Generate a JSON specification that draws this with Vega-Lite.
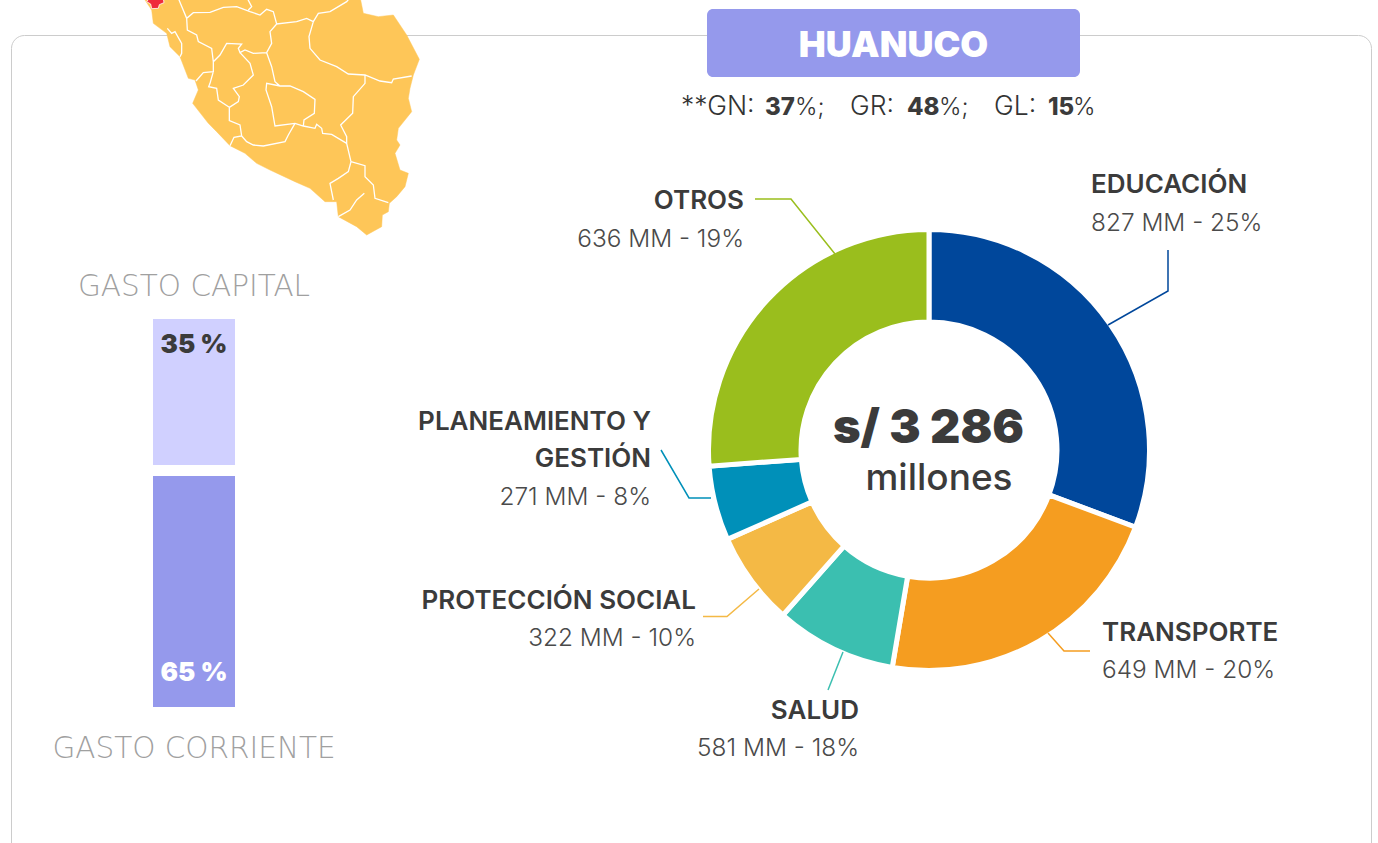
{
"$schema":"https://vega.github.io/schema/vega-lite/v6.json",
"width":1378,"height":843,"padding":0,"autosize":{"type":"none"},"background":"white",
"config":{"view":{"stroke":null}},
"datasets":{
"sectores":[
{"orden":1,"sector":"EDUCACIÓN","monto":"827 MM - 25%","arco":110.5},
{"orden":2,"sector":"TRANSPORTE","monto":"649 MM - 20%","arco":79.1},
{"orden":3,"sector":"SALUD","monto":"581 MM - 18%","arco":31.9},
{"orden":4,"sector":"PROTECCIÓN SOCIAL","monto":"322 MM - 10%","arco":24.6},
{"orden":5,"sector":"PLANEAMIENTO Y\nGESTIÓN","monto":"271 MM - 8%","arco":19.7},
{"orden":6,"sector":"OTROS","monto":"636 MM - 19%","arco":94.2}],
"guias":[
{"sector":"EDUCACIÓN","punto":1},{"sector":"EDUCACIÓN","punto":2},{"sector":"EDUCACIÓN","punto":3},
{"sector":"TRANSPORTE","punto":4},{"sector":"TRANSPORTE","punto":5},{"sector":"TRANSPORTE","punto":6},
{"sector":"SALUD","punto":7},{"sector":"SALUD","punto":8},
{"sector":"PROTECCIÓN SOCIAL","punto":9},{"sector":"PROTECCIÓN SOCIAL","punto":10},{"sector":"PROTECCIÓN SOCIAL","punto":11},
{"sector":"PLANEAMIENTO Y\nGESTIÓN","punto":12},{"sector":"PLANEAMIENTO Y\nGESTIÓN","punto":13},{"sector":"PLANEAMIENTO Y\nGESTIÓN","punto":14},
{"sector":"OTROS","punto":15},{"sector":"OTROS","punto":16},{"sector":"OTROS","punto":17}],
"gasto":[
{"grupo":"Gasto","tipo":"GASTO CAPITAL","pct":35,"etiqueta":"35 %","desde":66,"hasta":100},
{"grupo":"Gasto","tipo":"GASTO CORRIENTE","pct":65,"etiqueta":"65 %","desde":0,"hasta":65}],
"encabezado":[
{"i":1,"t":"**GN:"},{"i":2,"t":"37"},{"i":3,"t":"%;"},{"i":4,"t":"GR:"},{"i":5,"t":"48"},{"i":6,"t":"%;"},{"i":7,"t":"GL:"},{"i":8,"t":"15"},{"i":9,"t":"%"}],
"region":[{"region":"HUANUCO"}],
"marco":[{"m":"marco"}],
"centro":[{"fila":1,"t":"s/ 3 286"},{"fila":2,"t":"millones"}]
},
"resolve":{"scale":{"x":"independent","y":"independent","color":"independent","theta":"independent"}},
"layer":[
{"data":{"name":"marco"},"mark":{"type":"rect","fill":"white","stroke":"#cccccc","strokeWidth":1,"cornerRadius":13},
"encoding":{"x":{"field":"m","type":"nominal","axis":null,"scale":{"domain":["marco"],"range":[11.5,1371.5],"padding":0}},
"y":{"field":"m","type":"nominal","axis":null,"scale":{"domain":["marco"],"range":[35.5,900],"padding":0}}}},
{"data":{"values":[{"type":"Feature","properties":{"n":"mapa"},"geometry":{"type":"Polygon","coordinates":[[[690,-10],[700,40],[745,50],[790,45],[830,105],[868,178],[850,225],[840,265],[835,295],[845,335],[805,385],[800,420],[810,435],[795,460],[810,510],[835,520],[825,560],[800,590],[778,610],[775,635],[757,645],[755,680],[710,705],[680,680],[625,650],[620,605],[585,605],[540,565],[495,545],[420,510],[380,490],[345,460],[300,437],[260,395],[235,370],[188,310],[205,270],[195,240],[175,235],[150,170],[120,140],[110,100],[70,70],[65,30],[45,0],[45,-10],[690,-10]]]}}]},
"mark":{"type":"geoshape","fill":"#fec658","stroke":"#fec658","strokeWidth":0.5},
"projection":{"type":"identity","scale":0.33333,"translate":[130,0]}},
{"data":{"values":[{"type":"Feature","properties":{"n":"limites"},"geometry":{"type":"MultiLineString","coordinates":[
[[145,-5],[170,55],[190,38],[240,37],[280,22],[320,20],[360,35],[390,45],[410,28],[430,35],[440,72],[500,65],[530,55],[550,65],[565,40],[600,35],[650,5],[658,-5]],
[[352,-5],[365,20],[355,30]],
[[170,55],[172,90],[200,105],[205,125],[245,145],[250,185],[250,215],[220,218],[198,243]],
[[440,72],[420,95],[425,130],[410,158],[370,160],[345,150],[330,158],[325,145],[335,132],[290,130],[270,165],[250,185]],
[[250,215],[240,250],[236,260],[260,265],[265,300],[298,322],[298,362],[330,375],[335,408],[312,412],[300,437]],
[[330,158],[360,190],[370,225],[340,255],[310,265],[328,290],[325,305],[298,322]],
[[410,158],[425,200],[435,245],[450,258],[480,258],[520,275],[555,298],[553,340],[522,360],[520,378]],
[[450,258],[410,250],[408,270],[425,320],[435,378],[495,370],[520,378],[555,385],[560,373],[575,385],[578,400],[605,403],[650,430]],
[[495,370],[475,405],[465,425],[400,438],[370,435],[350,425],[335,408]],
[[550,65],[537,110],[540,145],[570,180],[620,200],[655,222],[705,225],[750,243],[785,248],[790,237],[845,228]],
[[705,225],[705,250],[670,290],[668,340],[632,375],[650,410],[650,430],[663,485],[655,515],[625,535],[600,550],[610,600]],
[[663,485],[705,497],[705,530],[730,555],[735,595],[775,608]],
[[625,650],[660,630],[680,600],[703,580]],
[[112,85],[125,100],[135,95],[155,130],[155,160],[150,170]]
]}}]},
"mark":{"type":"geoshape","filled":false,"stroke":"white","strokeWidth":1.3},
"projection":{"type":"identity","scale":0.33333,"translate":[130,0]}},
{"data":{"values":[{"type":"Feature","properties":{"n":"sede"},"geometry":{"type":"Polygon","coordinates":[[[58,-5],[100,-5],[102,8],[88,14],[85,25],[65,26],[62,12],[50,5],[58,-5]]]}}]},
"mark":{"type":"geoshape","fill":"#ef2b3c","stroke":"white","strokeWidth":0.8},
"projection":{"type":"identity","scale":0.33333,"translate":[130,0]}},
{"data":{"name":"region"},"mark":{"type":"rect","fill":"#9599ec","cornerRadius":6},
"encoding":{"x":{"field":"region","type":"nominal","axis":null,"scale":{"domain":["HUANUCO"],"range":[707,1080],"padding":0}},
"y":{"field":"region","type":"nominal","axis":null,"scale":{"domain":["HUANUCO"],"range":[9,77],"padding":0}}}},
{"data":{"name":"region"},"mark":{"type":"text","font":"Inter","fontWeight":900,"fontSize":36,"fill":"white","align":"center","baseline":"alphabetic"},
"encoding":{"text":{"field":"region"},"x":{"field":"region","type":"nominal","axis":null,"scale":{"domain":["HUANUCO"],"range":[707,1080],"padding":0}},
"y":{"field":"region","type":"nominal","axis":null,"scale":{"domain":["HUANUCO"],"range":[23,91],"padding":0}}}},
{"data":{"name":"encabezado"},"transform":[{"filter":{"field":"i","oneOf":[1,4,7]}}],"mark":{"type":"text","font":"Inter","fontWeight":300,"fontSize":26.5,"fill":"#333333","align":"left","baseline":"alphabetic"},
"encoding":{"text":{"field":"t"},"x":{"field":"i","type":"quantitative","axis":null,"scale":{"domain":[1,2,3,4,5,6,7,8,9],"range":[681,765,795,850,907,939,994,1048,1073],"zero":false,"nice":false}},
"y":{"field":"i","type":"quantitative","axis":null,"scale":{"domain":[1,9],"range":[115,115],"zero":false,"nice":false}}}},
{"data":{"name":"encabezado"},"transform":[{"filter":{"field":"i","oneOf":[3,6,9]}}],"mark":{"type":"text","font":"Inter","fontWeight":300,"fontSize":24,"fill":"#333333","align":"left","baseline":"alphabetic"},
"encoding":{"text":{"field":"t"},"x":{"field":"i","type":"quantitative","axis":null,"scale":{"domain":[1,2,3,4,5,6,7,8,9],"range":[681,765,795,850,907,939,994,1048,1073],"zero":false,"nice":false}},
"y":{"field":"i","type":"quantitative","axis":null,"scale":{"domain":[1,9],"range":[115,115],"zero":false,"nice":false}}}},
{"data":{"name":"encabezado"},"transform":[{"filter":{"field":"i","oneOf":[2,5,8]}}],"mark":{"type":"text","font":"Inter","fontWeight":800,"fontSize":24,"fill":"#3b3b3b","align":"left","baseline":"alphabetic"},
"encoding":{"text":{"field":"t"},"x":{"field":"i","type":"quantitative","axis":null,"scale":{"domain":[1,2,3,4,5,6,7,8,9],"range":[681,765,795,850,907,939,994,1048,1073],"zero":false,"nice":false}},
"y":{"field":"i","type":"quantitative","axis":null,"scale":{"domain":[1,9],"range":[115,115],"zero":false,"nice":false}}}},
{"data":{"name":"gasto"},"mark":{"type":"bar"},
"encoding":{"x":{"field":"grupo","type":"nominal","axis":null,"scale":{"domain":["Gasto"],"range":[153,235],"padding":0}},
"y":{"field":"desde","type":"quantitative","axis":null,"scale":{"domain":[0,65,66,100],"range":[707,476,465,319],"zero":false,"nice":false}},"y2":{"field":"hasta"},
"color":{"field":"tipo","type":"nominal","legend":null,"scale":{"domain":["GASTO CAPITAL","GASTO CORRIENTE"],"range":["#d0d0ff","#9599ec"]}}}},
{"data":{"name":"gasto"},"mark":{"type":"text","font":"Inter","fontWeight":900,"fontSize":26,"align":"center","baseline":"alphabetic"},
"encoding":{"text":{"field":"etiqueta"},"x":{"field":"grupo","type":"nominal","axis":null,"scale":{"domain":["Gasto"],"range":[153,235],"padding":0}},
"y":{"field":"pct","type":"quantitative","axis":null,"scale":{"domain":[35,65],"range":[353,681],"zero":false,"nice":false}},
"color":{"field":"tipo","type":"nominal","legend":null,"scale":{"domain":["GASTO CAPITAL","GASTO CORRIENTE"],"range":["#3b3b3b","#ffffff"]}}}},
{"data":{"name":"gasto"},"mark":{"type":"text","font":"DejaVu Sans","fontWeight":200,"fontSize":29.5,"fill":"#a0a0a0","align":"center","baseline":"alphabetic"},
"encoding":{"text":{"field":"tipo"},"x":{"field":"grupo","type":"nominal","axis":null,"scale":{"domain":["Gasto"],"range":[153,235],"padding":0}},
"y":{"field":"pct","type":"quantitative","axis":null,"scale":{"domain":[35,65],"range":[296,758],"zero":false,"nice":false}}}},
{"data":{"name":"sectores"},"mark":{"type":"arc","innerRadius":128,"outerRadius":220.5,"stroke":"white","strokeWidth":5},
"encoding":{"theta":{"field":"arco","type":"quantitative","stack":true},"order":{"field":"orden"},
"x":{"field":"orden","type":"quantitative","axis":null,"scale":{"domain":[1,6],"range":[929,929],"zero":false,"nice":false}},
"y":{"field":"orden","type":"quantitative","axis":null,"scale":{"domain":[1,6],"range":[450,450],"zero":false,"nice":false}},
"color":{"field":"sector","type":"nominal","legend":null,"sort":null,"scale":{"domain":["EDUCACIÓN","TRANSPORTE","SALUD","PROTECCIÓN SOCIAL","PLANEAMIENTO Y\nGESTIÓN","OTROS"],"range":["#00479b","#f59d20","#3bbfb0","#f4b945","#0090b9","#9abe1d"]}}}},
{"data":{"name":"guias"},"mark":{"type":"line","strokeWidth":1.5},
"encoding":{"x":{"field":"punto","type":"quantitative","axis":null,"scale":{"domain":[1,2,3,4,5,6,7,8,9,10,11,12,13,14,15,16,17],"range":[1108,1168,1168,1048,1064,1090,843,828,759,727,703,711,689,661,835,791,755],"zero":false,"nice":false}},
"y":{"field":"punto","type":"quantitative","axis":null,"scale":{"domain":[1,2,3,4,5,6,7,8,9,10,11,12,13,14,15,16,17],"range":[325,291,250,633,651,651,652,690,589,616.5,616.5,498,498,450,254,199,199],"zero":false,"nice":false}},
"order":{"field":"punto"},"detail":{"field":"sector"},
"color":{"field":"sector","type":"nominal","legend":null,"scale":{"domain":["EDUCACIÓN","TRANSPORTE","SALUD","PROTECCIÓN SOCIAL","PLANEAMIENTO Y\nGESTIÓN","OTROS"],"range":["#00479b","#f59d20","#3bbfb0","#f4b945","#0090b9","#9abe1d"]}}}},
{"data":{"name":"sectores"},"transform":[{"filter":"datum.orden<=2"}],"mark":{"type":"text","font":"Inter","fontWeight":600,"fontSize":26,"fill":"#3b3b3b","align":"left","baseline":"alphabetic"},
"encoding":{"text":{"field":"sector"},"x":{"field":"orden","type":"quantitative","axis":null,"scale":{"domain":[1,2],"range":[1091,1102],"zero":false,"nice":false}},
"y":{"field":"orden","type":"quantitative","axis":null,"scale":{"domain":[1,2],"range":[193,641],"zero":false,"nice":false}}}},
{"data":{"name":"sectores"},"transform":[{"filter":"datum.orden>2"}],"mark":{"type":"text","font":"Inter","fontWeight":600,"fontSize":26,"fill":"#3b3b3b","align":"right","baseline":"alphabetic","lineBreak":"\n","lineHeight":37},
"encoding":{"text":{"field":"sector"},"x":{"field":"orden","type":"quantitative","axis":null,"scale":{"domain":[3,4,5,6],"range":[859,696,651,744],"zero":false,"nice":false}},
"y":{"field":"orden","type":"quantitative","axis":null,"scale":{"domain":[3,4,5,6],"range":[719,609,430,209],"zero":false,"nice":false}}}},
{"data":{"name":"sectores"},"transform":[{"filter":"datum.orden<=2"}],"mark":{"type":"text","font":"Inter","fontWeight":300,"fontSize":24.4,"fill":"#4a4a4a","align":"left","baseline":"alphabetic"},
"encoding":{"text":{"field":"monto"},"x":{"field":"orden","type":"quantitative","axis":null,"scale":{"domain":[1,2],"range":[1091,1102],"zero":false,"nice":false}},
"y":{"field":"orden","type":"quantitative","axis":null,"scale":{"domain":[1,2],"range":[231,678],"zero":false,"nice":false}}}},
{"data":{"name":"sectores"},"transform":[{"filter":"datum.orden>2"}],"mark":{"type":"text","font":"Inter","fontWeight":300,"fontSize":24.4,"fill":"#4a4a4a","align":"right","baseline":"alphabetic"},
"encoding":{"text":{"field":"monto"},"x":{"field":"orden","type":"quantitative","axis":null,"scale":{"domain":[3,4,5,6],"range":[859,696,651,744],"zero":false,"nice":false}},
"y":{"field":"orden","type":"quantitative","axis":null,"scale":{"domain":[3,4,5,6],"range":[756,646,505,247],"zero":false,"nice":false}}}},
{"data":{"name":"centro"},"transform":[{"filter":"datum.fila==1"}],"mark":{"type":"text","font":"Inter","fontWeight":900,"fontSize":47,"fill":"#3b3b3b","align":"center","baseline":"alphabetic"},
"encoding":{"text":{"field":"t"},"x":{"field":"fila","type":"quantitative","axis":null,"scale":{"domain":[1,2],"range":[928.5,939],"zero":false,"nice":false}},
"y":{"field":"fila","type":"quantitative","axis":null,"scale":{"domain":[1,2],"range":[443,490],"zero":false,"nice":false}}}},
{"data":{"name":"centro"},"transform":[{"filter":"datum.fila==2"}],"mark":{"type":"text","font":"Inter","fontWeight":500,"fontSize":37,"fill":"#3b3b3b","align":"center","baseline":"alphabetic"},
"encoding":{"text":{"field":"t"},"x":{"field":"fila","type":"quantitative","axis":null,"scale":{"domain":[1,2],"range":[928.5,939],"zero":false,"nice":false}},
"y":{"field":"fila","type":"quantitative","axis":null,"scale":{"domain":[1,2],"range":[443,490],"zero":false,"nice":false}}}}
]
}
